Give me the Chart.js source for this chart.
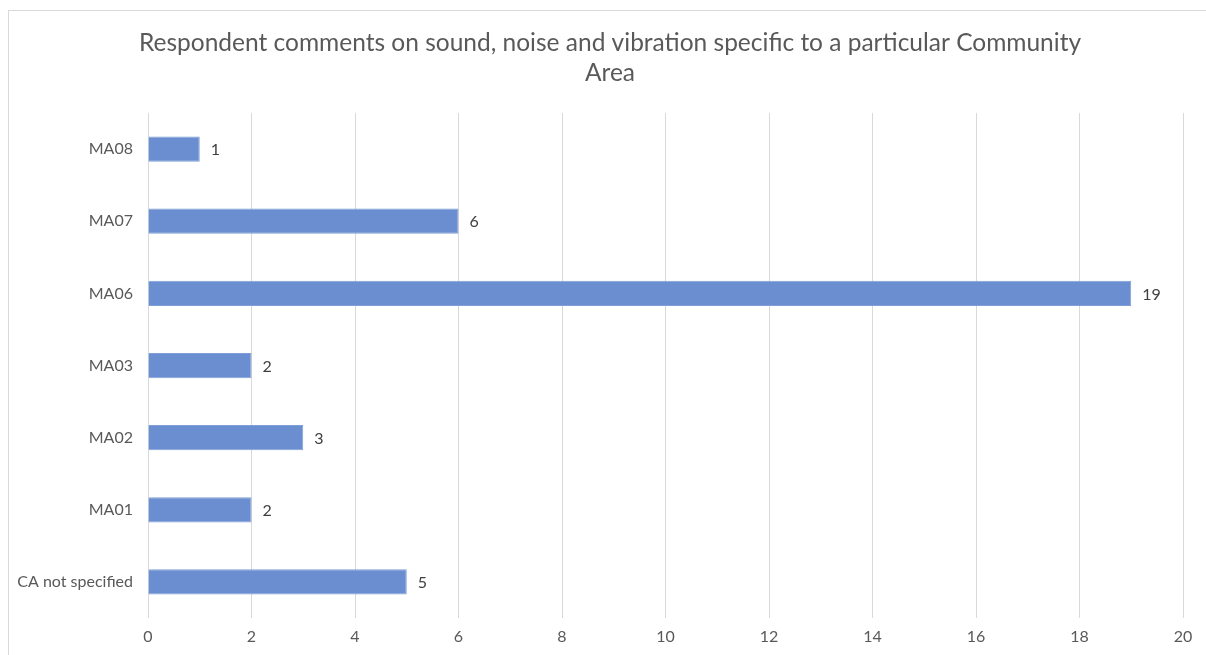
<!DOCTYPE html>
<html>
<head>
<meta charset="utf-8">
<script src="https://cdn.jsdelivr.net/npm/chart.js@4/dist/chart.umd.min.js"></script>
<style>
    html, body { margin: 0; padding: 0; background: #fff; overflow: hidden; }
    #wrap { position: relative; width: 1206px; height: 655px; }
    #frame {
        position: absolute; left: 8px; top: 10px; width: 1220px; height: 700px;
        border: 1px solid #d9d9d9; box-sizing: border-box; pointer-events: none;
    }
    canvas { position: absolute; left: 0; top: 0; }
</style>
</head>
<body>
<div id="wrap">
    <div id="frame"></div>
    <canvas id="byArea" width="1206" height="655"></canvas>
</div>
<script>
// ── Data ──────────────────────────────────────────────────

const areas    = ['MA08', 'MA07', 'MA06', 'MA03', 'MA02', 'MA01', 'CA not specified'];
const comments = [1, 6, 19, 2, 3, 2, 5];
const xTicks   = [0, 2, 4, 6, 8, 10, 12, 14, 16, 18, 20];

const chartTitle = [
    'Respondent comments on sound, noise and vibration specific to a particular Community',
    'Area'
];

// ── Theme ─────────────────────────────────────────────────

const FONT      = 'Lato, "Open Sans", sans-serif';
const TEXT      = '#595959';
const BAR_COLOR = '#6a8ed0';
const GRID      = '#d9d9d9';

// ── Plugin: two-line title, centred on the frame ──────────

const frameTitle = {
    id: 'frameTitle',
    afterDraw(chart) {
        const ctx = chart.ctx;
        const cx  = (chart.width + 14) / 2;
        ctx.save();
        ctx.fillStyle = TEXT;
        ctx.font = '24.5px ' + FONT;
        ctx.textAlign = 'center';
        ctx.textBaseline = 'middle';
        chartTitle.forEach((line, i) => ctx.fillText(line, cx, 43 + i * 30));
        ctx.restore();
    }
};

// ── Plugin: value labels at bar ends ──────────────────────

const valueLabels = {
    id: 'valueLabels',
    afterDatasetsDraw(chart) {
        const ctx  = chart.ctx;
        const meta = chart.getDatasetMeta(0);
        ctx.save();
        ctx.fillStyle = '#404040';
        ctx.font = '16px ' + FONT;
        ctx.textAlign = 'left';
        ctx.textBaseline = 'middle';
        meta.data.forEach((bar, i) => {
            ctx.fillText(String(comments[i]), bar.x + 11, bar.y + 1);
        });
        ctx.restore();
    }
};

// ── Chart ─────────────────────────────────────────────────

new Chart(document.getElementById('byArea').getContext('2d'), {
    type: 'bar',
    plugins: [valueLabels, frameTitle],
    data: {
        labels: areas,
        datasets: [{
            data: comments,
            backgroundColor: BAR_COLOR,
            borderColor: '#7f9fd8',
            borderWidth: 1,
            categoryPercentage: 1,
            barPercentage: 0.35
        }]
    },
    options: {
        indexAxis: 'y',
        responsive: false,
        animation: false,
        layout: { padding: { left: 14, right: 23, top: 113, bottom: 0 } },
        plugins: {
            legend:  { display: false },
            tooltip: { enabled: false },
            title:   { display: false }
        },
        scales: {
            x: {
                min: 0,
                max: 20,
                afterBuildTicks: s => { s.ticks = xTicks.map(v => ({ value: v })); },
                afterFit: s => { s.height = 37; },
                ticks: { color: TEXT, font: { family: FONT, size: 16 }, padding: 9 },
                grid:  { color: GRID, lineWidth: 1, drawTicks: false },
                border: { display: false }
            },
            y: {
                afterFit: s => { s.width = 134; },
                ticks: { color: TEXT, font: { family: FONT, size: 16 }, padding: 15 },
                grid:  { display: false, drawTicks: false },
                border: { display: false }
            }
        }
    }
});
</script>
</body>
</html>
